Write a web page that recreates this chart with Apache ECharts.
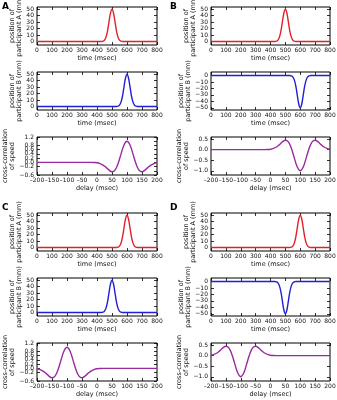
<!DOCTYPE html>
<html>
<head>
<meta charset="utf-8">
<script src="https://cdn.jsdelivr.net/npm/echarts@6/dist/echarts.min.js"></script>
<style>
  html, body { margin: 0; padding: 0; background: #fff; }
  #chart { width: 337px; height: 400px; }
</style>
</head>
<body>
<div id="chart"></div>
<script>
// time axis (msec) around each movement
const timeAt500 = [0, 400, 430, 440, 450, 460, 470, 480, 490, 500, 510, 520, 530, 540, 550, 560, 570, 600, 800]
const timeAt600 = [0, 500, 530, 540, 550, 560, 570, 580, 590, 600, 610, 620, 630, 640, 650, 660, 670, 700, 800]
// position (mm)
const bumpUp = [0, 0, 0.1, 0.6, 2.2, 6.8, 16.2, 30.3, 44.1, 50, 44.1, 30.3, 16.2, 6.8, 2.2, 0.6, 0.1, 0, 0]
const bumpDown = [0, 0, -0.1, -0.6, -2.2, -6.8, -16.2, -30.3, -44.1, -50, -44.1, -30.3, -16.2, -6.8, -2.2, -0.6, -0.1, 0, 0]

// delay axis (msec)
const delayPos = [-200, -20, -10, 0, 10, 20, 30, 40, 50, 60, 70, 80, 90, 100, 110, 120, 130, 140, 150, 160, 170, 180, 190, 200]
const delayNeg = [-200, -190, -180, -170, -160, -150, -140, -130, -120, -110, -100, -90, -80, -70, -60, -50, -40, -30, -20, -10, 0, 10, 20, 200]
// cross-correlation of speed
const ccA = [0, 0, -0.007, -0.022, -0.058, -0.128, -0.24, -0.369, -0.445, -0.368, -0.071, 0.389, 0.822, 1, 0.822, 0.389, -0.071, -0.368, -0.445, -0.369, -0.24, -0.128, -0.058, -0.022]
const ccB = [0, 0, 0.007, 0.022, 0.058, 0.128, 0.24, 0.369, 0.445, 0.368, 0.071, -0.389, -0.822, -1, -0.822, -0.389, 0.071, 0.368, 0.445, 0.369, 0.24, 0.128, 0.058, 0.022]
const ccC = [-0.022, -0.058, -0.128, -0.24, -0.369, -0.445, -0.368, -0.071, 0.389, 0.822, 1, 0.822, 0.389, -0.071, -0.368, -0.445, -0.369, -0.24, -0.128, -0.058, -0.022, -0.007, 0, 0]
const ccD = [0.022, 0.058, 0.128, 0.24, 0.369, 0.445, 0.368, 0.071, -0.389, -0.822, -1, -0.822, -0.389, 0.071, 0.368, 0.445, 0.369, 0.24, 0.128, 0.058, 0.022, 0.007, 0, 0]

const posTicks = [0, 10, 20, 30, 40, 50]
const negTicks = [-50, -40, -30, -20, -10, 0]
const ccTicksUp = [-0.6, -0.4, -0.2, 0, 0.2, 0.4, 0.6, 0.8, 1.0, 1.2]
const ccTicksDown = [-1.0, -0.5, 0, 0.5]

const RED = '#e3202a'
const BLUE = '#1f1fd8'
const PURPLE = '#9a2aa0'
const FONT = 'DejaVu Sans'

const pairs = (xs, ys) => xs.map((x, i) => [x, ys[i]])
const minus = s => String(s).replace('-', '\u2212')
const dash = s => String(s).replace('-', '\u2013')

// panel layout: column lefts, row tops
const colLeft = [37, 211]
const colWidth = [120, 119]
const rowTop = [7, 72, 137, 213, 278, 343]
const plotH = 38

// each plot: col, row, kind, data, color, y label
const plots = [
  { col: 0, row: 0, kind: 'time', x: timeAt500, y: bumpUp, color: RED, yr: 'up', name: 'position of\nparticipant A (mm)' },
  { col: 0, row: 1, kind: 'time', x: timeAt600, y: bumpUp, color: BLUE, yr: 'up', name: 'position of\nparticipant B (mm)' },
  { col: 0, row: 2, kind: 'delay', x: delayPos, y: ccA, color: PURPLE, yr: 'ccUp', name: 'cross-correlation\nof speed' },
  { col: 1, row: 0, kind: 'time', x: timeAt500, y: bumpUp, color: RED, yr: 'up', name: 'position of\nparticipant A (mm)' },
  { col: 1, row: 1, kind: 'time', x: timeAt600, y: bumpDown, color: BLUE, yr: 'down', name: 'position of\nparticipant B (mm)' },
  { col: 1, row: 2, kind: 'delay', x: delayPos, y: ccB, color: PURPLE, yr: 'ccDown', name: 'cross-correlation\nof speed' },
  { col: 0, row: 3, kind: 'time', x: timeAt600, y: bumpUp, color: RED, yr: 'up', name: 'position of\nparticipant A (mm)' },
  { col: 0, row: 4, kind: 'time', x: timeAt500, y: bumpUp, color: BLUE, yr: 'up', name: 'position of\nparticipant B (mm)' },
  { col: 0, row: 5, kind: 'delay', x: delayNeg, y: ccC, color: PURPLE, yr: 'ccUp', name: 'cross-correlation\nof speed' },
  { col: 1, row: 3, kind: 'time', x: timeAt600, y: bumpUp, color: RED, yr: 'up', name: 'position of\nparticipant A (mm)' },
  { col: 1, row: 4, kind: 'time', x: timeAt500, y: bumpDown, color: BLUE, yr: 'down', name: 'position of\nparticipant B (mm)' },
  { col: 1, row: 5, kind: 'delay', x: delayNeg, y: ccD, color: PURPLE, yr: 'ccDown', name: 'cross-correlation\nof speed' }
]

// lh keeps label boxes apart so ECharts does not drop any of them
const yRanges = {
  up: { min: -5.4, max: 53.4, ticks: posTicks, fmt: v => minus(v), gap: 12, lh: 6 },
  down: { min: -53.4, max: 5.4, ticks: negTicks, fmt: v => minus(v), gap: 16, lh: 6 },
  ccUp: { min: -0.6, max: 1.2, ticks: ccTicksUp, fmt: v => minus(v.toFixed(1)), gap: 16, lh: 4 },
  ccDown: { min: -1.2, max: 0.6, ticks: ccTicksDown, fmt: v => minus(v.toFixed(1)), gap: 16, lh: 6 }
}

const labelStyle = { fontFamily: FONT, fontSize: 6, color: '#111' }
const nameStyle = { fontFamily: FONT, fontSize: 6.5, color: '#111' }
const tick = { show: true, inside: true, length: 3, lineStyle: { color: '#000', width: 0.8 } }
const noLine = { show: false, onZero: false }

const grid = []
const xAxis = []
const yAxis = []
const series = []

plots.forEach((p, i) => {
  grid.push({
    left: colLeft[p.col], top: rowTop[p.row], width: colWidth[p.col], height: plotH,
    outerBoundsMode: 'none', containLabel: false,
    show: true, borderColor: '#000', borderWidth: 1, backgroundColor: '#fff'
  })
  const isTime = p.kind === 'time'
  const xBase = {
    gridIndex: i, type: 'value',
    min: isTime ? 0 : -200, max: isTime ? 800 : 200, interval: isTime ? 100 : 50,
    axisLine: noLine, splitLine: { show: false }
  }
  xAxis.push(Object.assign({}, xBase, {
    position: 'bottom',
    name: isTime ? 'time (msec)' : 'delay (msec)',
    nameLocation: 'middle', nameGap: 10,
    nameTextStyle: nameStyle,
    axisTick: tick,
    axisLabel: Object.assign({
      margin: 2, interval: 0, hideOverlap: false, showMinLabel: true, showMaxLabel: true,
      formatter: isTime ? (v => String(v)) : (v => dash(v))
    }, labelStyle)
  }))
  xAxis.push(Object.assign({}, xBase, {
    position: 'top', axisTick: tick, axisLabel: { show: false }
  }))
  const r = yRanges[p.yr]
  const yBase = {
    gridIndex: i, type: 'value', min: r.min, max: r.max,
    axisLine: noLine, splitLine: { show: false }
  }
  yAxis.push(Object.assign({}, yBase, {
    position: 'left',
    name: p.name, nameLocation: 'middle', nameRotate: 90, nameGap: r.gap,
    nameTextStyle: Object.assign({ lineHeight: 7 }, nameStyle),
    axisTick: Object.assign({ customValues: r.ticks }, tick),
    axisLabel: Object.assign({
      margin: 3, interval: 0, hideOverlap: false, showMinLabel: true, showMaxLabel: true,
      customValues: r.ticks, formatter: r.fmt, lineHeight: r.lh
    }, labelStyle)
  }))
  yAxis.push(Object.assign({}, yBase, {
    position: 'right',
    axisTick: Object.assign({ customValues: r.ticks }, tick),
    axisLabel: { show: false }
  }))
  series.push({
    type: 'line', xAxisIndex: 2 * i, yAxisIndex: 2 * i,
    data: pairs(p.x, p.y), smooth: 0.4, showSymbol: false,
    lineStyle: { color: p.color, width: 1.4 }, z: 5
  })
})

const letters = [['A', 2, 2], ['B', 170, 2], ['C', 2, 203], ['D', 170, 203]]

const chart = echarts.init(document.getElementById('chart'), null, { renderer: 'canvas' })
chart.setOption({
  backgroundColor: '#fff',
  animation: false,
  grid: grid,
  xAxis: xAxis,
  yAxis: yAxis,
  series: series,
  graphic: letters.map(l => ({
    type: 'text', left: l[1], top: l[2],
    style: { text: l[0], font: 'bold 9px "DejaVu Sans"', fill: '#000' }
  }))
})
</script>
</body>
</html>
